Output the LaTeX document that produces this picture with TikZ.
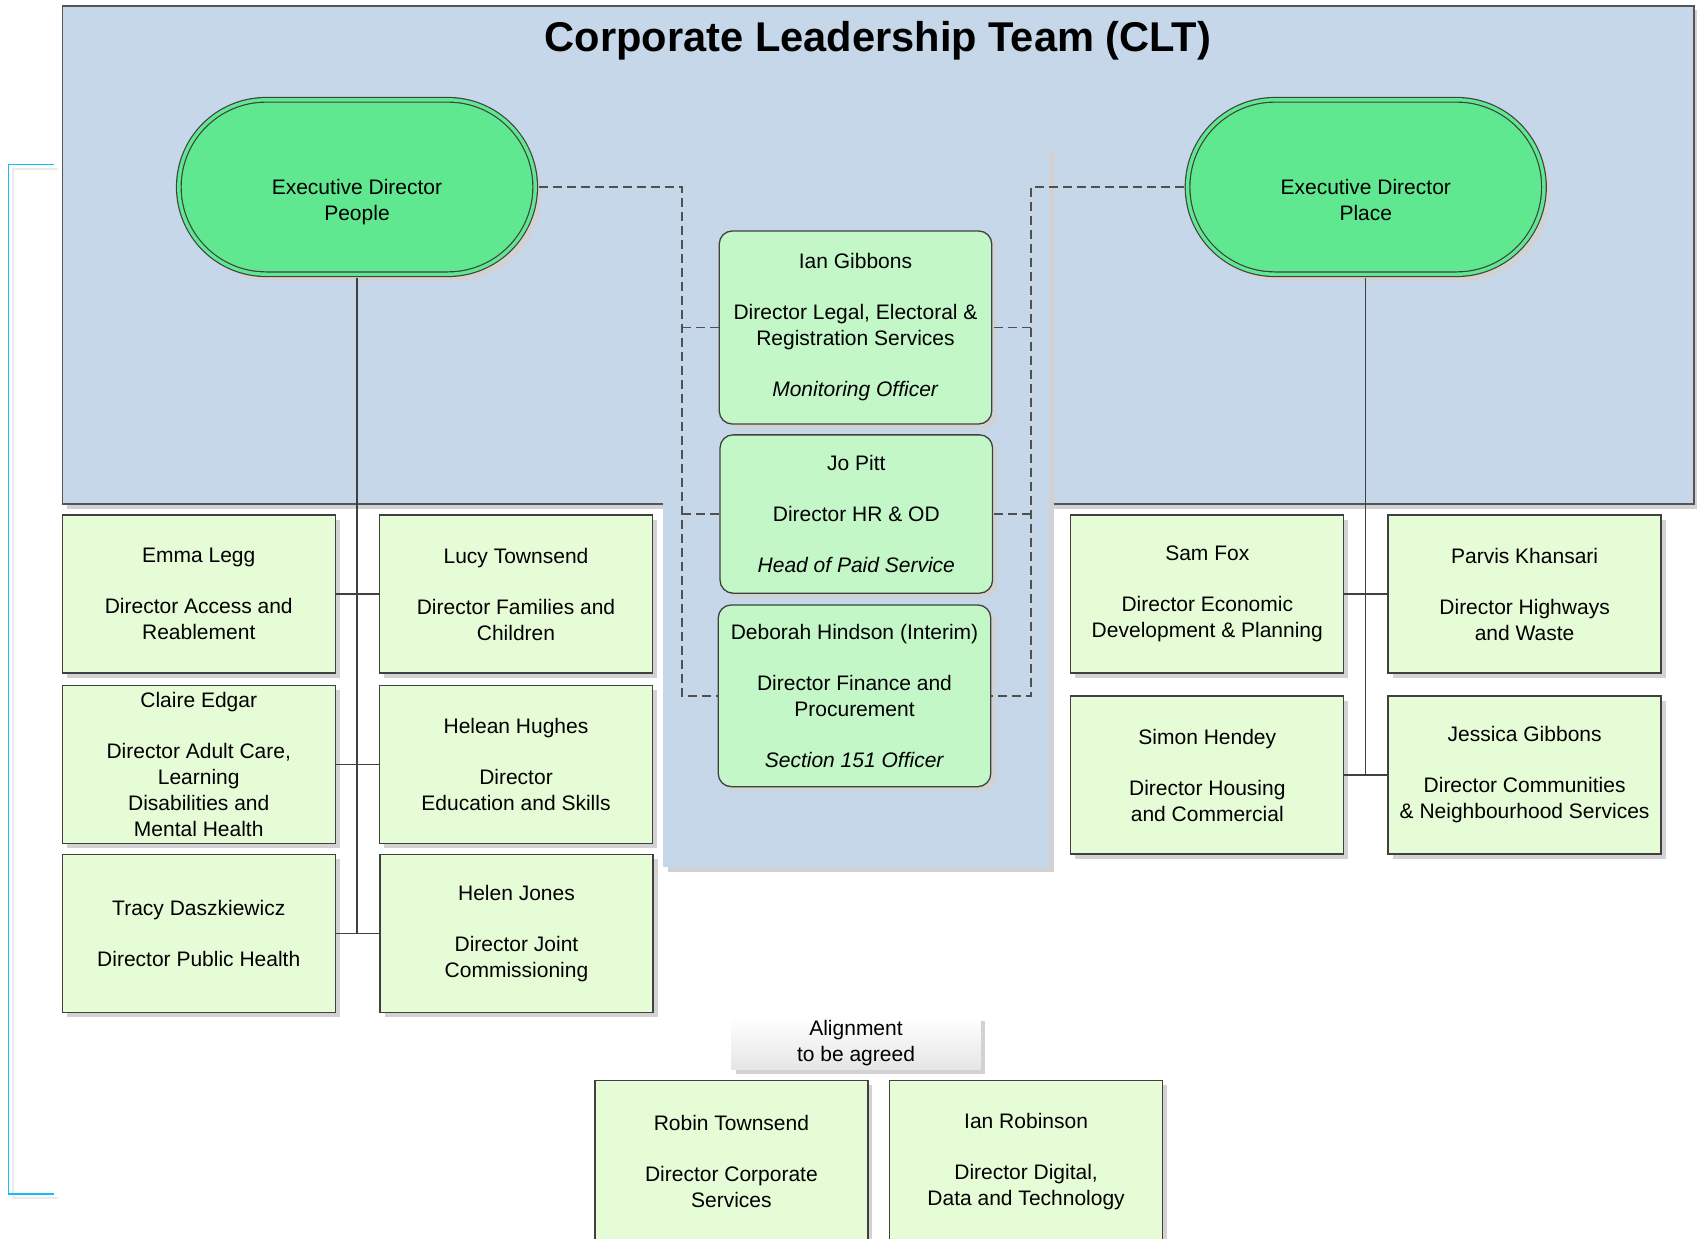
\documentclass[tikz,border=0pt]{standalone}
\usepackage{fontspec}
\setmainfont{Liberation Sans}
\usetikzlibrary{shapes.misc,shadows}
\definecolor{bgblue}{RGB}{197,215,232}
\definecolor{stadgreen}{RGB}{96,232,144}
\definecolor{cgreen}{RGB}{196,247,199}
\definecolor{dgreen}{RGB}{230,252,215}
\definecolor{bordergray}{RGB}{64,64,64}
\definecolor{framegray}{RGB}{85,85,85}
\definecolor{dashgray}{RGB}{80,80,80}
\definecolor{shgray}{RGB}{210,210,210}
\definecolor{cyanb}{RGB}{20,190,240}
\newcommand{\bxfont}{\fontsize{21}{26}\selectfont}
\begin{document}
\begin{tikzpicture}[x=1pt,y=-1pt,
  shd/.style={drop shadow={shadow xshift=4.5pt,shadow yshift=-4.5pt,fill=shgray,opacity=1}},
  dirbox/.style={shd, draw=bordergray, line width=1.3pt, fill=dgreen, minimum width=273pt, minimum height=158pt, inner sep=2pt, align=center, font=\bxfont},
  cbox/.style={dirbox, fill=cgreen, rounded corners=13pt, minimum width=272.5pt},
  stad/.style={rounded rectangle, draw=bordergray, line width=1.2pt, double=stadgreen, double distance=3.4pt, fill=stadgreen, minimum width=356.4pt, minimum height=174.4pt, inner sep=0pt, drop shadow={shadow xshift=6pt,shadow yshift=-7pt,fill=shgray,opacity=1}},
  stadtext/.style={align=center, font=\bxfont, inner sep=0pt},
  conn/.style={draw=bordergray, line width=1.4pt},
  dconn/.style={draw=dashgray, line width=1.4pt, dash pattern=on 9pt off 5pt},
  brk/.style={draw=cyanb, line width=1.8pt},
  brkshd/.style={draw=black!8, line width=1.8pt},
]
\useasboundingbox (0,0) rectangle (1697,1239);
% background areas
\path[fill=bgblue, draw=framegray, line width=1.3pt, shd] (62.5,6) rectangle (1694,504);
\path[fill=bgblue, shd] (663,145) rectangle (1049,867);
% left bracket
\draw[brkshd] (58,169) -- (12.8,169) -- (12.8,1198) -- (58,1198);
\draw[brk] (54,164.5) -- (8.5,164.5) -- (8.5,1194) -- (54,1194);
% title
\node[font=\fontsize{41.6}{48}\selectfont\bfseries, anchor=base, inner sep=0pt] (title) at (878,52) {Corporate Leadership Team (CLT)};
% executive directors
\node[stad] (ppl) at (357,187) {};
\node[stadtext] (pplt) at (357,202) {Executive Director\\People};
\node[stad] (plc) at (1365.75,187) {};
\node[stadtext] (plct) at (1365.75,200) {Executive Director\\Place};
% centre column
\node[cbox, minimum height=193pt] (ian) at (855.5,327.5) {Ian Gibbons\\[25pt]Director Legal, Electoral \&\\Registration Services\\[25pt]\textit{Monitoring Officer}};
\node[cbox, minimum height=158.3pt] (jo) at (856.3,514) {Jo Pitt\\[25pt]Director HR \& OD\\[25pt]\textit{Head of Paid Service}};
\node[cbox, minimum height=181.7pt] (deb) at (854.5,695.8) {Deborah Hindson (Interim)\\[25pt]Director Finance and\\Procurement\\[25pt]\textit{Section 151 Officer}};
% people directorate
\node[dirbox] (emma) at (198.75,594) {Emma Legg\\[25pt]Director Access and\\Reablement};
\node[dirbox] (lucy) at (516,594) {Lucy Townsend\\[25pt]Director Families and\\Children};
\node[dirbox] (claire) at (198.75,764.5) {Claire Edgar\\[25pt]Director Adult Care,\\Learning\\Disabilities and\\Mental Health};
\node[dirbox] (helean) at (516,764.5) {Helean Hughes\\[25pt]Director\\Education and Skills};
\node[dirbox] (tracy) at (198.75,933.5) {Tracy Daszkiewicz\\[25pt]Director Public Health};
\node[dirbox] (helen) at (516.5,933.5) {Helen Jones\\[25pt]Director Joint\\Commissioning};
% place directorate
\node[dirbox] (sam) at (1207.3,594) {Sam Fox\\[25pt]Director Economic\\Development \& Planning};
\node[dirbox] (parvis) at (1524.6,594) {Parvis Khansari\\[25pt]Director Highways\\and Waste};
\node[dirbox] (simon) at (1207.3,775) {Simon Hendey\\[25pt]Director Housing\\and Commercial};
\node[dirbox] (jessica) at (1524.6,775) {Jessica Gibbons\\[25pt]Director Communities\\\& Neighbourhood Services};
% alignment to be agreed
\node[shd, top color=white, bottom color=black!10, minimum width=249pt, minimum height=53pt, align=center, font=\bxfont, inner sep=0pt] (agree) at (856,1043.4) {Alignment\\to be agreed};
\node[dirbox, minimum height=161pt] (robin) at (731.4,1161.2) {Robin Townsend\\[25pt]Director Corporate\\Services};
\node[dirbox, minimum height=161pt] (ianr) at (1026.1,1161.2) {Ian Robinson\\[25pt]Director Digital,\\Data and Technology};
% tree connectors
\draw[conn, shorten <=2.8pt] (ppl.south) -- (ppl.south |- tracy.east);
\draw[conn] (emma.east) -- (lucy.west);
\draw[conn] (claire.east) -- (helean.west);
\draw[conn] (tracy.east) -- (helen.west);
\draw[conn, shorten <=2.8pt] (plc.south) -- (plc.south |- simon.east);
\draw[conn] (sam.east) -- (parvis.west);
\draw[conn] (simon.east) -- (jessica.west);
% dashed connectors
\coordinate (dL) at (682,187);
\coordinate (dR) at (1031,187);
\draw[dconn, shorten <=2.8pt] (ppl.east) -- (dL) -- (dL |- deb.west) -- (deb.west);
\draw[dconn] (dL |- ian.west) -- (ian.west);
\draw[dconn] (dL |- jo.west) -- (jo.west);
\draw[dconn, shorten <=2.8pt] (plc.west) -- (dR) -- (dR |- deb.east) -- (deb.east);
\draw[dconn] (dR |- ian.east) -- (ian.east);
\draw[dconn] (dR |- jo.east) -- (jo.east);
\end{tikzpicture}
\end{document}
